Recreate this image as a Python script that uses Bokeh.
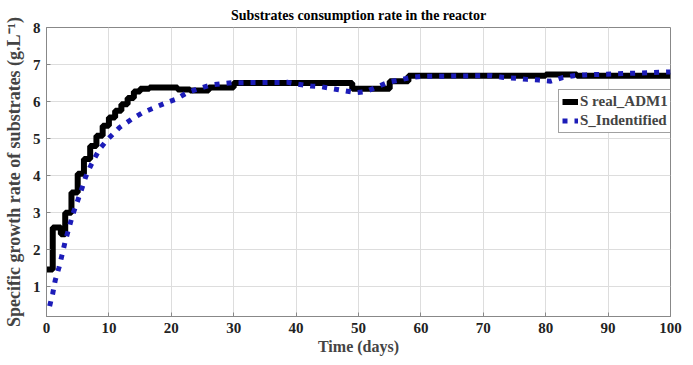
from bokeh.plotting import figure
from bokeh.models import Legend, LegendItem, FixedTicker, Range1d
from bokeh.embed import file_html
from bokeh.resources import INLINE

# Black staircase: S real_ADM1
real_t = [0, 1, 2.3, 3, 4, 5, 6, 7, 8, 9, 10, 11, 12, 13, 14, 15, 16.5, 21, 23, 26, 30, 49, 55, 58, 80, 85, 100]
real_s = [1.47, 2.6, 2.42, 3.0, 3.55, 4.05, 4.45, 4.8, 5.08, 5.35, 5.57, 5.75, 5.93, 6.1, 6.27, 6.35, 6.38, 6.33, 6.3, 6.38, 6.5, 6.35, 6.55, 6.7, 6.73, 6.7, 6.7]

# Blue dotted: S_Indentified
ident_t = [0.5, 1.0, 1.4, 2.0, 2.5, 3.0, 3.6, 4.2, 4.9, 5.6, 6.3, 7.2, 8.5, 9.9, 11.7, 13.6, 15.4, 17.3, 19.2, 20.7,
           22.5, 24.4, 26.3, 27.9, 29.7, 38.7, 40.3, 42.4, 44.1, 45.8, 47.5, 49.6, 51.2, 53.0, 54.9, 56.5, 58.3,
           60.2, 71.2, 73.3, 75.3, 77, 78.9, 80.8, 82.7, 84.5, 86.3, 100]
ident_s = [0.48, 0.82, 1.18, 1.52, 1.87, 2.23, 2.59, 2.95, 3.28, 3.62, 3.98, 4.31, 4.72, 5.0, 5.3, 5.52, 5.7, 5.84,
           5.97, 6.06, 6.24, 6.35, 6.45, 6.48, 6.51, 6.52, 6.47, 6.42, 6.4, 6.35, 6.3, 6.24, 6.27, 6.4, 6.53, 6.58,
           6.65, 6.68, 6.7, 6.65, 6.63, 6.6, 6.58, 6.55, 6.65, 6.7, 6.72, 6.8]

x_ticks = [0, 10, 20, 30, 40, 50, 60, 70, 80, 90, 100]
y_ticks = [1, 2, 3, 4, 5, 6, 7, 8]

FONT = "Liberation Serif"

p = figure(frame_width=624, frame_height=289, output_backend="svg", toolbar_location=None,
           x_range=Range1d(0, 100), y_range=Range1d(0.2, 8),
           title="Substrates consumption rate in the reactor")
p.min_border_left = 38
p.min_border_right = 15
p.min_border_top = 4
p.min_border_bottom = 0

p.title.align = "center"
p.title.text_font = FONT
p.title.text_font_style = "bold"
p.title.text_font_size = "14px"
p.title.text_color = "black"

r1 = p.step(real_t, real_s, mode="after", line_color="black", line_width=6)
r2 = p.line(ident_t, ident_s, line_color="#1c1cb8", line_width=5, line_dash="5 7", line_cap="butt")

p.xaxis.ticker = FixedTicker(ticks=x_ticks)
p.yaxis.ticker = FixedTicker(ticks=y_ticks)
p.xaxis.axis_label = "Time (days)"
p.yaxis.axis_label = "Specific growth rate of substrates (g.L⁻¹)"
for ax in (p.xaxis, p.yaxis):
    ax.axis_label_text_font = FONT
    ax.axis_label_text_font_style = "bold"
    ax.major_label_text_font = FONT
    ax.major_label_text_font_style = "bold"
    ax.major_label_text_font_size = "15px"
    ax.major_label_text_color = "#222222"
    ax.axis_line_color = "#888888"
    ax.major_tick_line_color = "#888888"
    ax.major_tick_in = 4
    ax.major_tick_out = 0
    ax.minor_tick_line_color = None
p.xaxis.axis_label_text_font_size = "16px"
p.yaxis.axis_label_text_font_size = "18px"
p.xaxis.major_label_standoff = 6
p.xaxis.axis_label_standoff = 2
p.yaxis.major_label_standoff = 6
p.yaxis.axis_label_standoff = 6

p.xgrid.grid_line_color = "#dddddd"
p.ygrid.grid_line_color = "#dddddd"
p.outline_line_color = "#888888"

legend = Legend(items=[LegendItem(label="S real_ADM1", renderers=[r1]),
                       LegendItem(label="S_Indentified", renderers=[r2])],
                location=(512, 183))
legend.label_text_font = FONT
legend.label_text_font_style = "bold"
legend.label_text_font_size = "15px"
legend.glyph_width = 16
legend.glyph_height = 17
legend.label_height = 17
legend.label_standoff = 2
legend.padding = 3
legend.spacing = 2
legend.margin = 0
legend.border_line_color = "#444444"
legend.background_fill_alpha = 1
p.add_layout(legend)

open("out.html", "w").write(file_html(p, INLINE))
